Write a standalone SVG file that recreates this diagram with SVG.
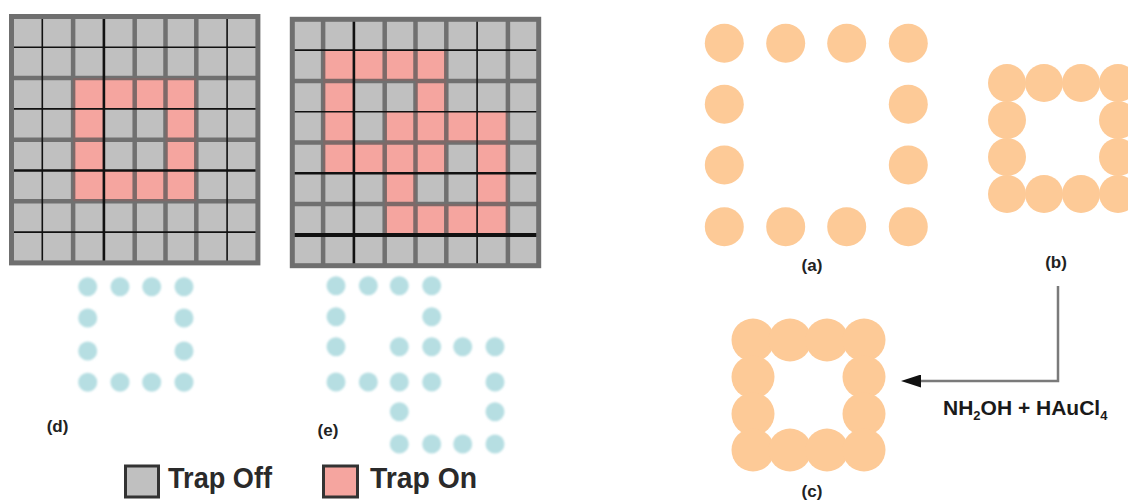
<svg xmlns="http://www.w3.org/2000/svg" width="1128" height="502" viewBox="0 0 1128 502">
<defs>
<style>
.cell{fill:#c0c0c0}
.on{fill:#f5a59f}
.g{stroke:#555;stroke-opacity:.75;stroke-width:4.5;fill:none}
.k{stroke:#111;stroke-width:1.6;fill:none}
.kk{stroke:#111;stroke-width:2.6;fill:none}
.kkk{stroke:#111;stroke-width:4;fill:none}
.border{fill:none;stroke:#6f6f6f;stroke-width:5}
.cy{fill:#b6dee2;filter:url(#soft)}
.or{fill:#fdca97}
.lbl{font-family:"Liberation Sans",Arial,sans-serif;font-weight:bold;font-size:17px;fill:#222;text-anchor:middle}
.leg{font-family:"Liberation Sans",Arial,sans-serif;font-weight:bold;font-size:29px;fill:#2a2a2a}
.chem{font-family:"Liberation Sans",Arial,sans-serif;font-weight:bold;font-size:21px;fill:#1a1a1a}
.conn{fill:none;stroke:#7a7a7a;stroke-width:2.5}
</style>
<filter id="soft" x="-30%" y="-30%" width="160%" height="160%"><feGaussianBlur stdDeviation="0.8"/></filter>
<marker id="ah" markerUnits="userSpaceOnUse" markerWidth="20" markerHeight="13" refX="0" refY="6.5" orient="auto" viewBox="0 0 20 13"><path d="M0,0 L20,6.5 L0,13 Z" fill="#111"/></marker>
</defs>

<g id="grid-d" transform="translate(11.5,16.5)">
<rect class="cell" x="0" y="0" width="246.4" height="246.4"/>
<path class="on" fill-rule="evenodd" d="M61.6 61.6H184.8V184.8H61.6Z M92.4 92.4V154H154V92.4Z"/>
<path class="g" d="M61.6 0V246.4M123.2 0V246.4M154 0V246.4M184.8 0V246.4M0 61.6H246.4M0 123.2H246.4M0 184.8H246.4"/>
<path class="k" d="M30.8 0V246.4M215.6 0V246.4M0 30.8H246.4M0 92.4H246.4M0 215.6H246.4"/>
<path class="kk" d="M92.4 0V246.4M0 154H246.4"/>
<rect class="border" x="0" y="0" width="246.4" height="246.4"/>
</g>

<g id="grid-e" transform="translate(292.3,19.3)">
<rect class="cell" x="0" y="0" width="246.4" height="246.4"/>
<rect class="on" x="30.8" y="30.8" width="123.2" height="30.8"/>
<rect class="on" x="30.8" y="61.6" width="30.8" height="30.8"/>
<rect class="on" x="123.2" y="61.6" width="30.8" height="30.8"/>
<rect class="on" x="30.8" y="92.4" width="30.8" height="30.8"/>
<rect class="on" x="92.4" y="92.4" width="123.2" height="30.8"/>
<rect class="on" x="30.8" y="123.2" width="123.2" height="30.8"/>
<rect class="on" x="184.8" y="123.2" width="30.8" height="30.8"/>
<rect class="on" x="92.4" y="154" width="30.8" height="30.8"/>
<rect class="on" x="184.8" y="154" width="30.8" height="30.8"/>
<rect class="on" x="92.4" y="184.8" width="123.2" height="30.8"/>
<path class="g" d="M30.8 0V246.4M92.4 0V246.4M123.2 0V246.4M154 0V246.4M215.6 0V246.4M0 61.6H246.4M0 123.2H246.4M0 184.8H246.4"/>
<path class="k" d="M184.8 0V246.4M0 30.8H246.4M0 92.4H246.4"/>
<path class="kk" d="M61.6 0V246.4M0 154H246.4"/>
<path class="kkk" d="M0 215.6H246.4"/>
<rect class="border" x="0" y="0" width="246.4" height="246.4"/>
</g>

<g id="dots-d">
<circle class="cy" cx="87.7" cy="286.7" r="9.5"/><circle class="cy" cx="120" cy="286.7" r="9.5"/><circle class="cy" cx="151.7" cy="286.7" r="9.5"/><circle class="cy" cx="184" cy="286.7" r="9.5"/>
<circle class="cy" cx="87.7" cy="318" r="9.5"/><circle class="cy" cx="184" cy="318" r="9.5"/>
<circle class="cy" cx="87.7" cy="351" r="9.5"/><circle class="cy" cx="184" cy="351" r="9.5"/>
<circle class="cy" cx="87.7" cy="382.3" r="9.5"/><circle class="cy" cx="120" cy="382.3" r="9.5"/><circle class="cy" cx="151.7" cy="382.3" r="9.5"/><circle class="cy" cx="184" cy="382.3" r="9.5"/>
</g>

<g id="dots-e">
<circle class="cy" cx="336" cy="285.7" r="9.5"/><circle class="cy" cx="368.3" cy="285.7" r="9.5"/><circle class="cy" cx="399.3" cy="285.7" r="9.5"/><circle class="cy" cx="431.7" cy="285.7" r="9.5"/>
<circle class="cy" cx="336" cy="316.7" r="9.5"/><circle class="cy" cx="431.7" cy="316.7" r="9.5"/>
<circle class="cy" cx="336" cy="346.7" r="9.5"/><circle class="cy" cx="399.3" cy="346.7" r="9.5"/><circle class="cy" cx="431.7" cy="346.7" r="9.5"/><circle class="cy" cx="462.7" cy="346.7" r="9.5"/><circle class="cy" cx="495" cy="346.7" r="9.5"/>
<circle class="cy" cx="336" cy="382" r="9.5"/><circle class="cy" cx="368.3" cy="382" r="9.5"/><circle class="cy" cx="399.3" cy="382" r="9.5"/><circle class="cy" cx="431.7" cy="382" r="9.5"/><circle class="cy" cx="495" cy="382" r="9.5"/>
<circle class="cy" cx="399.3" cy="411.7" r="9.5"/><circle class="cy" cx="495" cy="411.7" r="9.5"/>
<circle class="cy" cx="399.3" cy="444" r="9.5"/><circle class="cy" cx="431.7" cy="444" r="9.5"/><circle class="cy" cx="462.7" cy="444" r="9.5"/><circle class="cy" cx="495" cy="444" r="9.5"/>
</g>

<g id="label-d"><text class="lbl" x="57.5" y="432">(d)</text></g>
<g id="label-e"><text class="lbl" x="328" y="436">(e)</text></g>

<g id="node-a">
<circle class="or" cx="724.3" cy="43.3" r="19.5"/><circle class="or" cx="785.7" cy="43.3" r="19.5"/><circle class="or" cx="846.7" cy="43.3" r="19.5"/><circle class="or" cx="908.3" cy="43.3" r="19.5"/>
<circle class="or" cx="724.3" cy="104.3" r="19.5"/><circle class="or" cx="908.3" cy="104.3" r="19.5"/>
<circle class="or" cx="724.3" cy="165" r="19.5"/><circle class="or" cx="908.3" cy="165" r="19.5"/>
<circle class="or" cx="724.3" cy="226.7" r="19.5"/><circle class="or" cx="785.7" cy="226.7" r="19.5"/><circle class="or" cx="846.7" cy="226.7" r="19.5"/><circle class="or" cx="908.3" cy="226.7" r="19.5"/>
<text class="lbl" x="812" y="271">(a)</text>
</g>

<g id="node-b">
<circle class="or" cx="1007" cy="83" r="19"/><circle class="or" cx="1044" cy="83" r="19"/><circle class="or" cx="1081" cy="83" r="19"/><circle class="or" cx="1118" cy="83" r="19"/>
<circle class="or" cx="1007" cy="120" r="19"/><circle class="or" cx="1118" cy="120" r="19"/>
<circle class="or" cx="1007" cy="157" r="19"/><circle class="or" cx="1118" cy="157" r="19"/>
<circle class="or" cx="1007" cy="194" r="19"/><circle class="or" cx="1044" cy="194" r="19"/><circle class="or" cx="1081" cy="194" r="19"/><circle class="or" cx="1118" cy="194" r="19"/>
<text class="lbl" x="1056" y="268">(b)</text>
</g>

<g id="node-c">
<circle class="or" cx="753" cy="340" r="21.5"/><circle class="or" cx="790" cy="340" r="21.5"/><circle class="or" cx="827" cy="340" r="21.5"/><circle class="or" cx="864" cy="340" r="21.5"/>
<circle class="or" cx="753" cy="377" r="21.5"/><circle class="or" cx="864" cy="377" r="21.5"/>
<circle class="or" cx="753" cy="414" r="21.5"/><circle class="or" cx="864" cy="414" r="21.5"/>
<circle class="or" cx="753" cy="450" r="21.5"/><circle class="or" cx="790" cy="450" r="21.5"/><circle class="or" cx="827" cy="450" r="21.5"/><circle class="or" cx="864" cy="450" r="21.5"/>
<text class="lbl" x="812" y="497">(c)</text>
</g>

<g id="connectors">
<path class="conn" d="M1058 286V381H921" marker-end="url(#ah)"/>
<text class="chem" x="943" y="415">NH<tspan font-size="13" dy="5">2</tspan><tspan dy="-5">OH + HAuCl</tspan><tspan font-size="13" dy="5">4</tspan></text>
</g>

<g id="legend">
<rect x="125.5" y="466" width="33" height="31" fill="#c0c0c0" stroke="#333" stroke-width="3"/>
<text class="leg" x="168" y="488" textLength="104" lengthAdjust="spacingAndGlyphs">Trap Off</text>
<rect x="323.5" y="466" width="34" height="31" fill="#f5a59f" stroke="#333" stroke-width="3"/>
<text class="leg" x="370" y="488" textLength="107" lengthAdjust="spacingAndGlyphs">Trap On</text>
</g>
</svg>
